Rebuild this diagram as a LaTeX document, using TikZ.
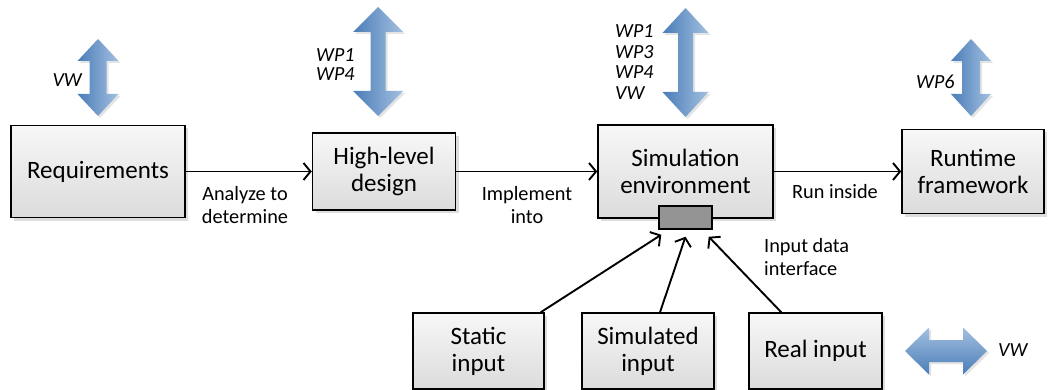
\documentclass[tikz,border=0pt]{standalone}
\usepackage{fontspec}
\setmainfont{Carlito}
\usetikzlibrary{arrows.meta,shadows}
\definecolor{arrdark}{HTML}{4A7DB8}
\definecolor{arrlight}{HTML}{A3C0E0}
\tikzset{
  box/.style={draw=black, line width=1.5pt, top color=black!3, bottom color=black!14,
    align=center, inner sep=0pt, font=\fontsize{25}{27}\selectfont,
    drop shadow={shadow xshift=3pt, shadow yshift=-3pt, opacity=0.22, fill=black!60}},
  portbox/.style={draw=black, line width=1.5pt, fill=black!42, inner sep=0pt,
    minimum width=53pt, minimum height=23pt},
  flow/.style={line width=1.9pt, -{Straight Barb[length=7pt,width=17pt]}},
  lab/.style={font=\fontsize{20.3}{23}\selectfont, align=center, inner sep=0pt},
  wp/.style={font=\fontsize{20}{20.7}\selectfont\itshape, align=left, inner sep=0pt},
  vblock/.style={left color=arrdark, right color=arrlight,
    drop shadow={shadow xshift=2pt, shadow yshift=-2pt, opacity=0.18, fill=black!60}},
  hblock/.style={top color=arrlight, bottom color=arrdark,
    drop shadow={shadow xshift=2pt, shadow yshift=-2pt, opacity=0.18, fill=black!60}},
}
% vertical double block arrow: cx, top, bottom, head half width, shaft half width, head length
\newcommand\myvdarrow[6]{%
  \path[vblock] (#1,#2) -- ({#1+#4},{#2+#6}) -- ({#1+#5},{#2+#6}) -- ({#1+#5},{#3-#6})
    -- ({#1+#4},{#3-#6}) -- (#1,#3) -- ({#1-#4},{#3-#6}) -- ({#1-#5},{#3-#6})
    -- ({#1-#5},{#2+#6}) -- ({#1-#4},{#2+#6}) -- cycle;}
% horizontal double block arrow: cy, left, right, head half height, shaft half height, head length
\newcommand\myhdarrow[6]{%
  \path[hblock] (#2,#1) -- ({#2+#6},{#1-#4}) -- ({#2+#6},{#1-#5}) -- ({#3-#6},{#1-#5})
    -- ({#3-#6},{#1-#4}) -- (#3,#1) -- ({#3-#6},{#1+#4}) -- ({#3-#6},{#1+#5})
    -- ({#2+#6},{#1+#5}) -- ({#2+#6},{#1+#4}) -- cycle;}
\begin{document}
\begin{tikzpicture}[x=1pt,y=-1pt]
\useasboundingbox (0,0) rectangle (1048,390);

% block arrows
\myvdarrow{98}{39}{116}{20.5}{8.5}{22}
\myvdarrow{378}{7}{116}{25}{7.5}{25}
\myvdarrow{685.5}{8}{117}{23}{7.5}{25}
\myvdarrow{971}{39}{116}{20}{9}{22}
\myhdarrow{351}{905}{987}{23.5}{11}{24}

% boxes
\node[box, minimum width=174pt, minimum height=92pt] (req) at (98,171.5) {Requirements};
\node[box, minimum width=143pt, minimum height=77pt] (hld) at (384,171.5) {High-level\\design};
\node[box, minimum width=175pt, minimum height=93pt] (sim) at (685.5,171.5) {Simulation\\environment};
\node[box, minimum width=142pt, minimum height=84pt] (rt) at (973,171.5) {Runtime\\framework};
\node[portbox] (port) at (685.5,217.5) {};
\node[box, minimum width=131pt, minimum height=76pt] (stat) at (478.5,351) {Static\\input};
\node[box, minimum width=132pt, minimum height=76pt] (simin) at (648,351) {Simulated\\input};
\node[box, minimum width=133pt, minimum height=76pt] (real) at (815.5,351) {Real input};

% connectors
\draw[flow] (req.east) -- (hld.west);
\draw[flow] (hld.east) -- (sim.west);
\draw[flow] (sim.east) -- (rt.west);
\coordinate (t1) at ([shift={(3,5)}]port.south west);
\coordinate (t2) at ([shift={(0,7)}]port.south);
\coordinate (t3) at ([shift={(-4,7)}]port.south east);
\draw[flow] ([shift={(-4,0)}]stat.north east) -- (t1);
\draw[flow] ([shift={(12,0)}]simin.north) -- (t2);
\draw[flow] ([shift={(33,0)}]real.north west) -- (t3);

% connector labels
\node[lab] (l1) at (245,205.5) {Analyze to\\determine};
\node[lab] (l2) at (527,205.5) {Implement\\into};
\node[lab] (l3) at (835,192) {Run inside};
\node[lab, align=left, anchor=west] (l4) at (764,257.5) {Input data\\interface};

% work package labels
\node[wp, anchor=east] (w1) at (82,80) {VW};
\node[wp, anchor=west, font=\fontsize{20}{19}\selectfont\itshape] (w2) at (316,65) {WP1\\WP4};
\node[wp, anchor=west] (w3) at (615,62) {WP1\\WP3\\WP4\\VW};
\node[wp, anchor=west] (w4) at (916,82) {WP6};
\node[wp, anchor=west] (w5) at (998,350) {VW};
\end{tikzpicture}
\end{document}
